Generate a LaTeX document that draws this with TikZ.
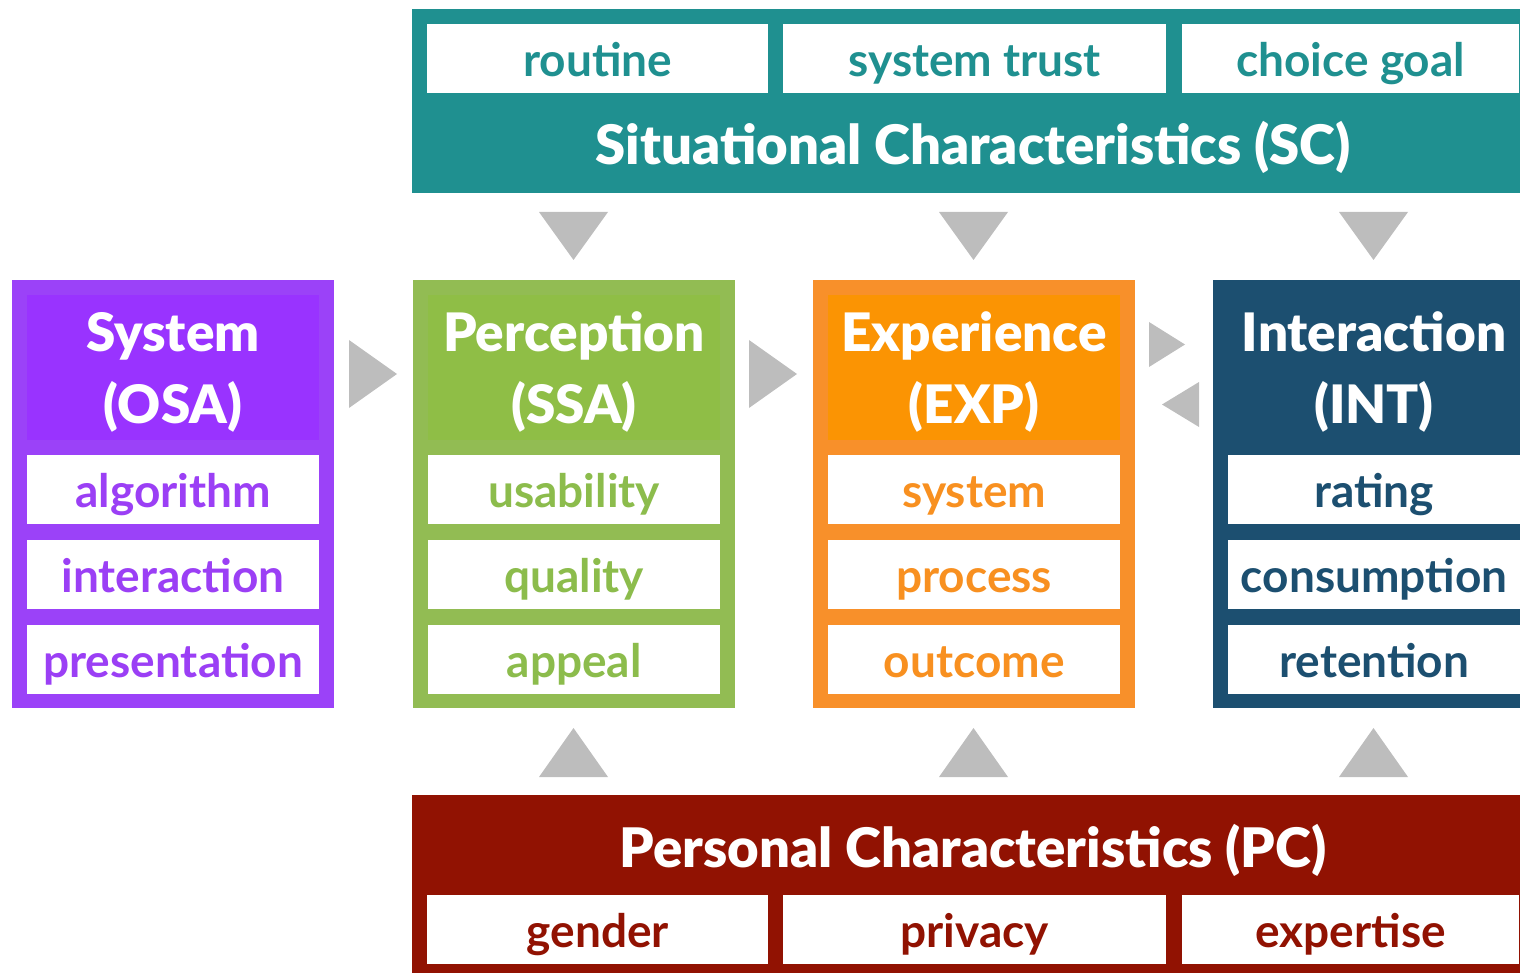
\documentclass[tikz,border=0pt]{standalone}
\usepackage{fontspec}
\setmainfont{Lato}
\newfontfamily\heavyfont{Lato Black}
\definecolor{purpleB}{HTML}{9B42F8}
\definecolor{purpleH}{HTML}{9933FF}
\definecolor{purpleT}{HTML}{9B3FF5}
\definecolor{greenB}{HTML}{92BC53}
\definecolor{greenH}{HTML}{8FBE46}
\definecolor{greenT}{HTML}{8CBC4C}
\definecolor{orangeB}{HTML}{F8902A}
\definecolor{orangeH}{HTML}{FB9403}
\definecolor{orangeT}{HTML}{F89020}
\definecolor{navy}{HTML}{1C4F70}
\definecolor{teal}{HTML}{1F9090}
\definecolor{darkred}{HTML}{911202}
\definecolor{arrowgray}{HTML}{BDBDBD}
\begin{document}
\begin{tikzpicture}[x=1pt,y=-1pt,
  panel/.style={draw=none, minimum width=322pt, minimum height=428pt, inner sep=0pt, anchor=north west},
  headbox/.style={draw=none, minimum width=292pt, minimum height=145pt, inner sep=0pt, anchor=north west},
  head/.style={anchor=base, text=white, inner sep=0pt, font=\fontsize{53}{53}\selectfont\heavyfont},
  item/.style={fill=white, minimum width=292pt, minimum height=69pt, inner sep=0pt, anchor=north west,
    text height=36pt, text depth=0pt, font=\fontsize{46}{46}\selectfont\bfseries},
  band/.style={draw=none, inner sep=0pt, anchor=north west},
  bigtitle/.style={anchor=base, text=white, inner sep=0pt, font=\fontsize{54.5}{54.5}\selectfont\heavyfont},
  tri/.style={fill=arrowgray, draw=none}
]
\useasboundingbox (0,0) rectangle (1520,973);
\clip (0,0) rectangle (1520,973);

% ---- Situational Characteristics (top band)
\node[band, fill=teal, minimum width=1130pt, minimum height=184pt] (sc) at (412,9) {};
\node[item, text=teal, minimum width=341pt] (routine) at (427,24) {routine};
\node[item, text=teal, minimum width=383pt] (trust) at (783,24) {system trust};
\node[item, text=teal, minimum width=337pt] (goal) at (1182,24) {choice goal};
\node[bigtitle] (sctitle) at (973,165) {Situational Characteristics (SC)};

% ---- Personal Characteristics (bottom band)
\node[band, fill=darkred, minimum width=1130pt, minimum height=200pt] (pc) at (412,795) {};
\node[bigtitle] (pctitle) at (973,867) {Personal Characteristics (PC)};
\node[item, text=darkred, minimum width=341pt] (gender) at (427,895) {gender};
\node[item, text=darkred, minimum width=383pt] (privacy) at (783,895) {privacy};
\node[item, text=darkred, minimum width=337pt] (expertise) at (1182,895) {expertise};

% ---- System (OSA)
\node[panel, fill=purpleB] (sys) at (12,280) {};
\node[headbox, fill=purpleH] (sysh) at (27,295) {};
\node[head] (syst1) at (173,352) {System};
\node[head] (syst2) at (173,423) {(OSA)};
\node[item, text=purpleT] (algorithm) at (27,455) {algorithm};
\node[item, text=purpleT] (interaction) at (27,540) {interaction};
\node[item, text=purpleT] (presentation) at (27,625) {presentation};

% ---- Perception (SSA)
\node[panel, fill=greenB] (per) at (413,280) {};
\node[headbox, fill=greenH] (perh) at (428,295) {};
\node[head] (pert1) at (574,352) {Perception};
\node[head] (pert2) at (574,423) {(SSA)};
\node[item, text=greenT] (usability) at (428,455) {usability};
\node[item, text=greenT] (quality) at (428,540) {quality};
\node[item, text=greenT] (appeal) at (428,625) {appeal};

% ---- Experience (EXP)
\node[panel, fill=orangeB] (exp) at (813,280) {};
\node[headbox, fill=orangeH] (exph) at (828,295) {};
\node[head] (expt1) at (974,352) {Experience};
\node[head] (expt2) at (974,423) {(EXP)};
\node[item, text=orangeT] (system) at (828,455) {system};
\node[item, text=orangeT] (process) at (828,540) {process};
\node[item, text=orangeT] (outcome) at (828,625) {outcome};

% ---- Interaction (INT)
\node[panel, fill=navy] (int) at (1213,280) {};
\node[head] (intt1) at (1374,352) {Interaction};
\node[head] (intt2) at (1374,423) {(INT)};
\node[item, text=navy] (rating) at (1228,455) {rating};
\node[item, text=navy] (consumption) at (1228,540) {consumption};
\node[item, text=navy] (retention) at (1228,625) {retention};

% ---- arrows (triangles)
\fill[tri] (349,340) -- (397,374) -- (349,408) -- cycle;
\fill[tri] (749,340) -- (797,374) -- (749,408) -- cycle;
\fill[tri] (1149,322) -- (1185,344.5) -- (1149,367) -- cycle;
\fill[tri] (1199,382) -- (1162,404.5) -- (1199,427) -- cycle;
\foreach \cx in {573.5,973.5,1373.5}{
  \fill[tri] (\cx-34.5,212) -- (\cx+34.5,212) -- (\cx,260) -- cycle;
  \fill[tri] (\cx-34.5,777) -- (\cx+34.5,777) -- (\cx,728) -- cycle;
}
\end{tikzpicture}
\end{document}
